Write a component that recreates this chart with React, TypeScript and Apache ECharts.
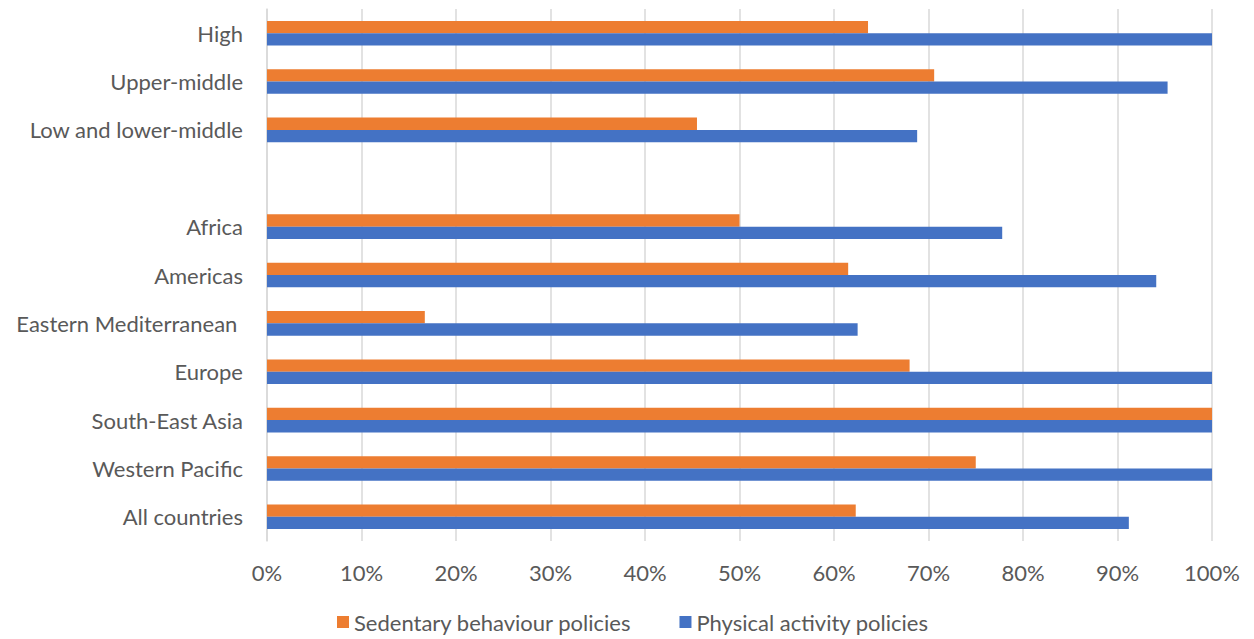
import React, { useEffect, useRef } from "react";
import * as echarts from "echarts";

// Category rows, top to bottom (the empty entry separates income groups from regions)
const categories: string[] = [
  "High",
  "Upper-middle",
  "Low and lower-middle",
  "",
  "Africa",
  "Americas",
  "Eastern Mediterranean ",
  "Europe",
  "South-East Asia",
  "Western Pacific",
  "All countries",
];

// Share of countries with each policy type (%)
const sedentaryPolicies: (number | null)[] = [63.6, 70.6, 45.5, null, 50, 61.5, 16.7, 68, 100, 75, 62.3];
const physicalPolicies: (number | null)[] = [100, 95.3, 68.8, null, 77.8, 94.1, 62.5, 100, 100, 100, 91.2];

const seriesNames = ["Sedentary behaviour policies", "Physical activity policies"];
const seriesColors = ["#ED7D31", "#4472C4"];

const FONT = "Lato, 'Open Sans', sans-serif";
const TEXT_COLOR = "#595959";
const GRID_COLOR = "#d9d9d9";

export default function App() {
  const ref = useRef<HTMLDivElement>(null);

  useEffect(() => {
    document.body.style.margin = "0";
    if (!ref.current) return;
    const chart = echarts.init(ref.current, null, { renderer: "svg" });
    chart.setOption({
      animation: false,
      textStyle: { fontFamily: FONT },
      grid: { left: 267, right: 42, top: 9, bottom: 98 },
      legend: {
        data: seriesNames,
        left: 332,
        top: 606,
        icon: "rect",
        itemWidth: 12,
        itemHeight: 12,
        itemGap: 48,
        textStyle: { color: TEXT_COLOR, fontSize: 22, fontFamily: FONT },
      },
      xAxis: {
        type: "value",
        min: 0,
        max: 100,
        interval: 10,
        axisLine: { show: false },
        axisTick: { show: false },
        axisLabel: {
          formatter: "{value}%",
          color: TEXT_COLOR,
          fontSize: 22,
          fontFamily: FONT,
          margin: 20,
        },
        splitLine: { show: true, lineStyle: { color: GRID_COLOR, width: 1.5 } },
      },
      yAxis: {
        type: "category",
        inverse: true,
        data: categories,
        axisLine: { show: true, lineStyle: { color: GRID_COLOR, width: 1.5 } },
        axisTick: { show: false },
        axisLabel: {
          color: TEXT_COLOR,
          fontSize: 22,
          fontFamily: FONT,
          margin: 24,
          padding: [0, 0, 4, 0],
        },
        splitLine: { show: false },
      },
      series: [
        {
          name: seriesNames[0],
          type: "bar",
          data: sedentaryPolicies,
          barWidth: 12.3,
          barGap: "0%",
          itemStyle: { color: seriesColors[0] },
        },
        {
          name: seriesNames[1],
          type: "bar",
          data: physicalPolicies,
          barWidth: 12.3,
          barGap: "0%",
          itemStyle: { color: seriesColors[1] },
        },
      ],
    });
    return () => chart.dispose();
  }, []);

  return <div ref={ref} style={{ width: 1254, height: 639 }} />;
}
